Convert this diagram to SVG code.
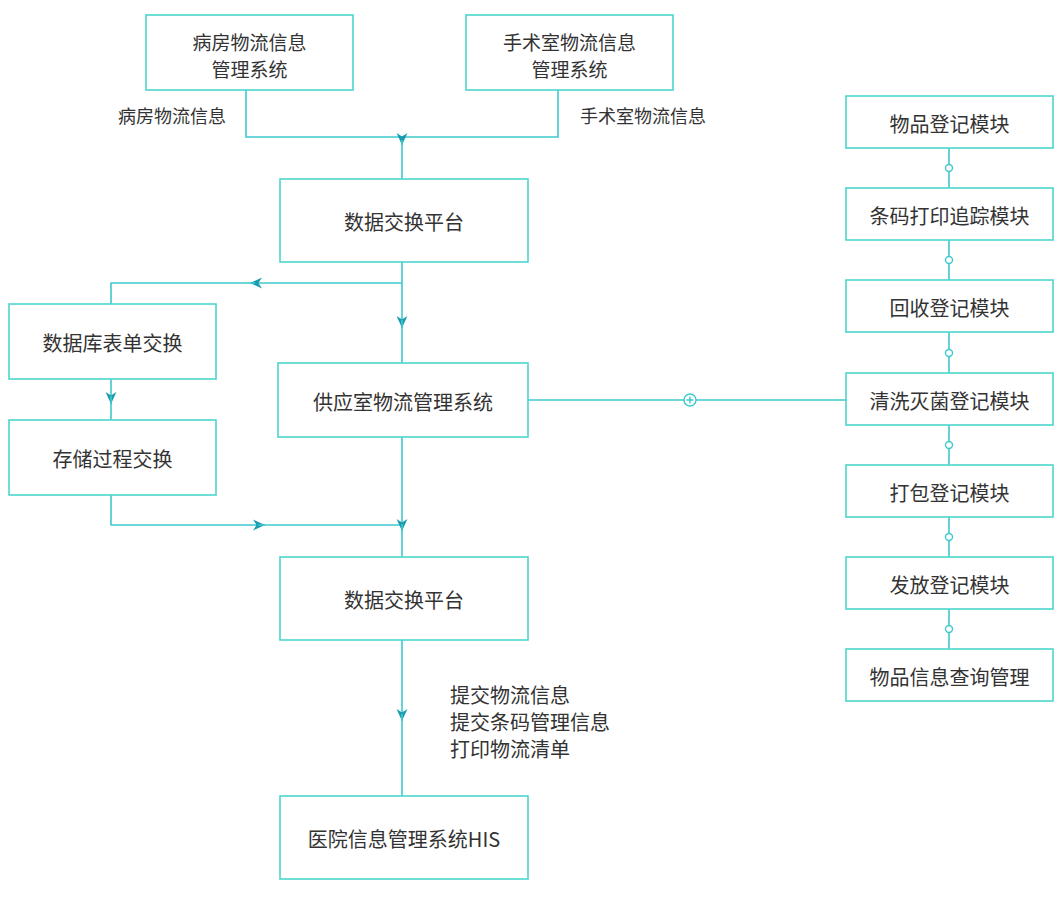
<svg xmlns="http://www.w3.org/2000/svg" width="1060" height="897" viewBox="0 0 1060 897">
<defs>
<marker id="arr" markerUnits="userSpaceOnUse" markerWidth="12" markerHeight="12" viewBox="0 0 10 10" refX="10" refY="5" orient="auto">
<path d="M0,0.5 L10,5 L0,9.5 L3,5 z" fill="#1a9cb0"/>
</marker>
</defs>
<style>
.box{fill:#fff;stroke:#4cd6cc;stroke-width:1.6}
.ln{fill:none;stroke:#3fc9cc;stroke-width:1.6}
.ar{marker-end:url(#arr)}
.t{font-family:"Noto Sans CJK SC","Noto Sans",sans-serif;font-size:20px;fill:#333;text-anchor:middle;dominant-baseline:central}
.t2{font-family:"Noto Sans CJK SC","Noto Sans",sans-serif;font-size:19px;fill:#333;text-anchor:middle;dominant-baseline:central}
.lb{font-family:"Noto Sans CJK SC","Noto Sans",sans-serif;font-size:18px;fill:#333;dominant-baseline:central}
.lb2{font-family:"Noto Sans CJK SC","Noto Sans",sans-serif;font-size:20px;fill:#333;dominant-baseline:central}
.dot{fill:#fff;stroke:#3fc9cc;stroke-width:1.4}
</style>
<rect width="1060" height="897" fill="#fff"/>

<g id="connectors">
<polyline class="ln" points="246,89 246,137 402,137"/>
<polyline class="ln" points="558,89 558,137 402,137"/>
<line class="ln ar" x1="402" y1="136" x2="402" y2="145"/>
<line class="ln" x1="402" y1="140" x2="402" y2="179"/>
<line class="ln" x1="402" y1="262" x2="402" y2="283"/>
<line class="ln ar" x1="402" y1="283" x2="250" y2="283"/>
<polyline class="ln" points="255,283 111,283 111,304"/>
<line class="ln ar" x1="402" y1="283" x2="402" y2="328"/>
<line class="ln" x1="402" y1="320" x2="402" y2="363"/>
<line class="ln ar" x1="111" y1="379" x2="111" y2="404"/>
<line class="ln" x1="111" y1="396" x2="111" y2="420"/>
<polyline class="ln ar" points="111,495 111,525 265,525"/>
<line class="ln" x1="258" y1="525" x2="402" y2="525"/>
<line class="ln ar" x1="402" y1="437" x2="402" y2="531"/>
<line class="ln" x1="402" y1="524" x2="402" y2="557"/>
<line class="ln ar" x1="402" y1="640" x2="402" y2="721"/>
<line class="ln" x1="402" y1="714" x2="402" y2="796"/>
<line class="ln" x1="528" y1="400" x2="846" y2="400"/>
<circle class="dot" cx="690" cy="400" r="6"/>
<path d="M686.5,400 H693.5 M690,396.5 V403.5" stroke="#3fc9cc" stroke-width="1.4"/>
<line class="ln" x1="949" y1="148" x2="949" y2="649"/>
<circle class="dot" cx="949" cy="168" r="3.5"/>
<circle class="dot" cx="949" cy="260" r="3.5"/>
<circle class="dot" cx="949" cy="353" r="3.5"/>
<circle class="dot" cx="949" cy="445" r="3.5"/>
<circle class="dot" cx="949" cy="537" r="3.5"/>
<circle class="dot" cx="949" cy="629" r="3.5"/>
</g>

<g id="labels">
<text class="lb" x="118" y="115">病房物流信息</text>
<text class="lb" x="580" y="115">手术室物流信息</text>
<text class="lb2" x="450" y="694">提交物流信息</text>
<text class="lb2" x="450" y="721">提交条码管理信息</text>
<text class="lb2" x="450" y="748">打印物流清单</text>
</g>

<g id="n-ward"><rect class="box" x="146" y="15" width="207" height="75"/><text class="t2" x="249.5" y="41">病房物流信息</text><text class="t2" x="249.5" y="68">管理系统</text></g>
<g id="n-or"><rect class="box" x="466" y="15" width="207" height="75"/><text class="t2" x="569.5" y="41">手术室物流信息</text><text class="t2" x="569.5" y="68">管理系统</text></g>
<g id="n-dx1"><rect class="box" x="280" y="179" width="248" height="83"/><text class="t" x="404" y="221">数据交换平台</text></g>
<g id="n-dbform"><rect class="box" x="9" y="304" width="207" height="75"/><text class="t" x="112.5" y="342">数据库表单交换</text></g>
<g id="n-proc"><rect class="box" x="9" y="420" width="207" height="75"/><text class="t" x="112.5" y="458">存储过程交换</text></g>
<g id="n-supply"><rect class="box" x="278" y="363" width="250" height="74"/><text class="t" x="403" y="401">供应室物流管理系统</text></g>
<g id="n-dx2"><rect class="box" x="280" y="557" width="248" height="83"/><text class="t" x="404" y="599">数据交换平台</text></g>
<g id="n-his"><rect class="box" x="280" y="796" width="248" height="83"/><text class="t" x="404" y="838">医院信息管理系统HIS</text></g>

<g id="m1"><rect class="box" x="846" y="96" width="207" height="52"/><text class="t" x="949.5" y="123">物品登记模块</text></g>
<g id="m2"><rect class="box" x="846" y="188" width="207" height="52"/><text class="t" x="949.5" y="215">条码打印追踪模块</text></g>
<g id="m3"><rect class="box" x="846" y="280" width="207" height="52"/><text class="t" x="949.5" y="307">回收登记模块</text></g>
<g id="m4"><rect class="box" x="846" y="373" width="207" height="52"/><text class="t" x="949.5" y="400">清洗灭菌登记模块</text></g>
<g id="m5"><rect class="box" x="846" y="465" width="207" height="52"/><text class="t" x="949.5" y="492">打包登记模块</text></g>
<g id="m6"><rect class="box" x="846" y="557" width="207" height="52"/><text class="t" x="949.5" y="584">发放登记模块</text></g>
<g id="m7"><rect class="box" x="846" y="649" width="207" height="52"/><text class="t" x="949.5" y="676">物品信息查询管理</text></g>
</svg>
